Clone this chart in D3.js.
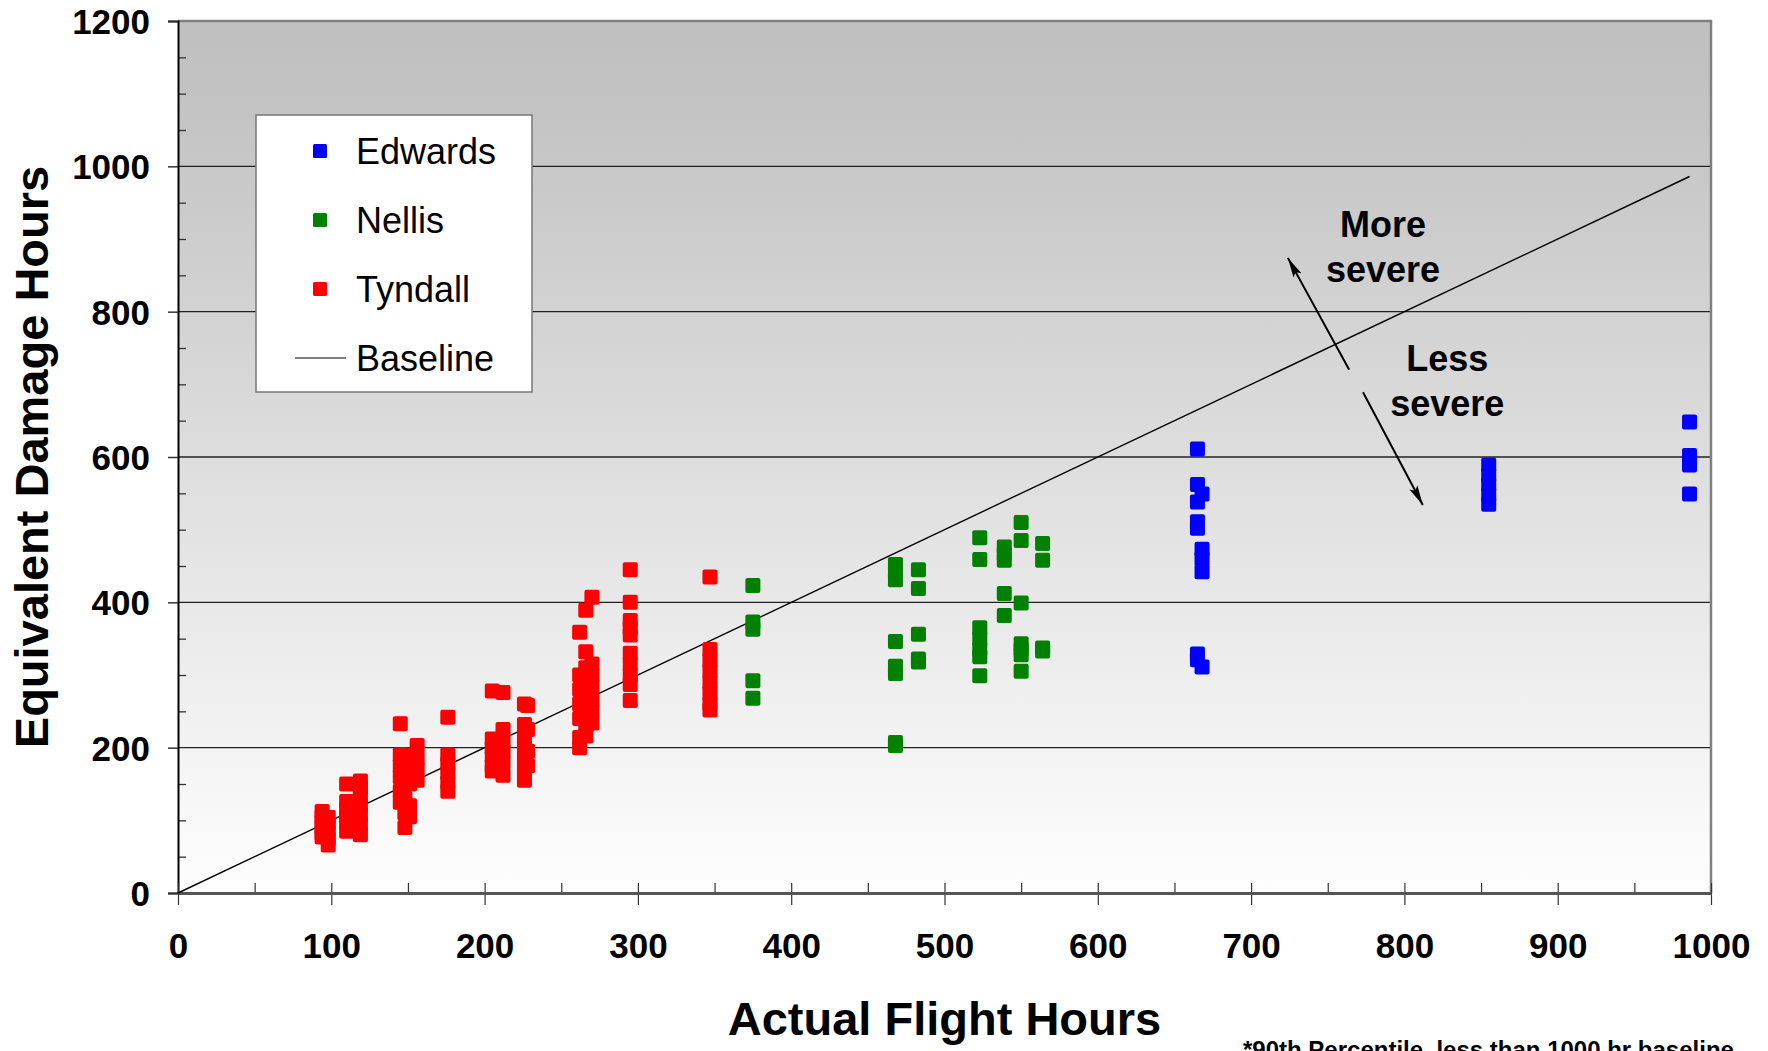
<!DOCTYPE html>
<html>
<head>
<meta charset="utf-8">
<script src="https://cdn.jsdelivr.net/npm/d3@7"></script>
<style>
  body { margin: 0; background: #fff; }
  text { font-family: "Liberation Sans", Arial, Helvetica, sans-serif; }
</style>
</head>
<body>
<svg id="chart" width="1768" height="1051"></svg>
<script>
// data: [actual flight hours, equivalent damage hours]
var edwards = [
  [665, 611], [665, 562], [665, 538], [665, 511], [665, 502], [665, 329], [665, 321],
  [668, 549], [668, 473], [668, 460], [668, 442], [668, 311],
  [855, 589], [855, 575], [855, 562], [855, 548], [855, 535],
  [986, 648], [986, 602], [986, 596], [986, 589], [986, 549]
];
var nellis = [
  [375, 423], [375, 373], [375, 363], [375, 292], [375, 268],
  [468, 452], [468, 440], [468, 431], [468, 346], [468, 312], [468, 302], [468, 207], [468, 203],
  [483, 445], [483, 419], [483, 356], [483, 322], [483, 318],
  [523, 489], [523, 459], [523, 365], [523, 350], [523, 335], [523, 325], [523, 299],
  [539, 476], [539, 466], [539, 458], [539, 412], [539, 382],
  [550, 510], [550, 485], [550, 399], [550, 343], [550, 335], [550, 328], [550, 305],
  [564, 481], [564, 458], [564, 337], [564, 333]
];
var tyndall = [
  [94, 112], [94, 105], [94, 98], [94, 90], [94, 82], [94, 77],
  [98, 104], [98, 95], [98, 85], [98, 75], [98, 66],
  [110, 150], [110, 126], [110, 115], [110, 105], [110, 95], [110, 85],
  [119, 154], [119, 145], [119, 135], [119, 120], [119, 108], [119, 95], [119, 80],
  [145, 233], [145, 190], [145, 175], [145, 160], [145, 140], [145, 125],
  [148, 190], [148, 170], [148, 150], [148, 130], [148, 110], [148, 90],
  [151, 180], [151, 150], [151, 120], [151, 105],
  [156, 203], [156, 185], [156, 170], [156, 155],
  [176, 242], [176, 190], [176, 178], [176, 165], [176, 152], [176, 140],
  [205, 278], [205, 212], [205, 200], [205, 188], [205, 175], [205, 168],
  [212, 276], [212, 225], [212, 210], [212, 195], [212, 180], [212, 162],
  [226, 260], [226, 232], [226, 215], [226, 200], [226, 185], [226, 170], [226, 155],
  [228, 258], [228, 225], [228, 195], [228, 175],
  [262, 359], [262, 300], [262, 280], [262, 260], [262, 240], [262, 214], [262, 200],
  [266, 389], [266, 332], [266, 310], [266, 290], [266, 270], [266, 250], [266, 230], [266, 216],
  [270, 407], [270, 315], [270, 300], [270, 285], [270, 265], [270, 250], [270, 234],
  [295, 445], [295, 400], [295, 375], [295, 365], [295, 355], [295, 330], [295, 315], [295, 300], [295, 287], [295, 265],
  [347, 435], [347, 335], [347, 320], [347, 305], [347, 290], [347, 275], [347, 260], [347, 252]
];
var baseline = [[0, 0], [986, 986]];

var xTicks = [0, 100, 200, 300, 400, 500, 600, 700, 800, 900, 1000];
var yTicks = [0, 200, 400, 600, 800, 1000, 1200];
var seriesNames = ["Edwards", "Nellis", "Tyndall"];
var seriesColors = ["#0000ff", "#008000", "#ff0000"];

var svg = d3.select("#chart");
var plotLeft = 178, plotRight = 1711, plotTop = 21, plotBottom = 893;

var x = d3.scaleLinear().domain([0, 1000]).range([plotLeft, plotRight]);
var y = d3.scaleLinear().domain([0, 1200]).range([plotBottom, plotTop]);
var fmt = d3.format("d");

// background gradient
var defs = svg.append("defs");
var grad = defs.append("linearGradient")
  .attr("id", "bg").attr("x1", 0).attr("y1", 0).attr("x2", 0).attr("y2", 1);
grad.append("stop").attr("offset", "0%").attr("stop-color", "#c0c0c0");
grad.append("stop").attr("offset", "8%").attr("stop-color", "#c2c2c2");
grad.append("stop").attr("offset", "100%").attr("stop-color", "#fefefe");

svg.append("rect")
  .attr("x", plotLeft).attr("y", plotTop)
  .attr("width", plotRight - plotLeft).attr("height", plotBottom - plotTop)
  .style("fill", "url(#bg)");

// gridlines
svg.append("g").selectAll("line")
  .data(yTicks.filter(function(d) { return d > 0 && d < 1200; }))
  .join("line")
  .attr("x1", plotLeft).attr("x2", plotRight)
  .attr("y1", function(d) { return y(d); }).attr("y2", function(d) { return y(d); })
  .style("stroke", "#222").style("stroke-width", 1.3);

// top and right border
svg.append("path")
  .attr("d", `M${plotLeft},${plotTop}H${plotRight}V${plotBottom}`)
  .style("fill", "none").style("stroke", "#808080").style("stroke-width", 2.5);

// minor ticks on y (inside)
var yMinor = d3.range(50, 1200, 50).filter(function(d) { return d % 200 !== 0; });
svg.append("g")
  .attr("transform", `translate(${plotLeft},0)`)
  .call(d3.axisRight(y).tickValues(yMinor).tickSize(8).tickFormat(""))
  .call(function(g) { g.select(".domain").remove(); })
  .selectAll("line").style("stroke", "#333").style("stroke-width", 1.3);

// y axis
var yAxis = svg.append("g")
  .attr("transform", `translate(${plotLeft},0)`)
  .call(d3.axisLeft(y).tickValues(yTicks).tickFormat(fmt).tickSize(10).tickPadding(18));
yAxis.select(".domain").style("stroke", "#000").style("stroke-width", 2);
yAxis.selectAll(".tick line").style("stroke", "#333").style("stroke-width", 1.5);
yAxis.selectAll("text")
  .style("font-size", "35px").style("font-weight", "bold").style("fill", "#000")
  .attr("dy", "0.36em");

// minor ticks on x (upward)
var xMinor = d3.range(50, 1000, 100);
svg.append("g")
  .attr("transform", `translate(0,${plotBottom})`)
  .call(d3.axisTop(x).tickValues(xMinor).tickSize(10).tickFormat(""))
  .call(function(g) { g.select(".domain").remove(); })
  .selectAll("line").style("stroke", "#333").style("stroke-width", 1.2);

// major ticks on x crossing the axis
svg.append("g")
  .attr("transform", `translate(0,${plotBottom - 10})`)
  .call(d3.axisBottom(x).tickValues(xTicks).tickSize(22).tickFormat(""))
  .call(function(g) { g.select(".domain").remove(); })
  .selectAll("line").style("stroke", "#333").style("stroke-width", 1.2);

// x axis
var xAxis = svg.append("g")
  .attr("transform", `translate(0,${plotBottom})`)
  .call(d3.axisBottom(x).tickValues(xTicks).tickFormat(fmt).tickSize(0).tickPadding(40));
xAxis.select(".domain").style("stroke", "#555").style("stroke-width", 3);
xAxis.selectAll("text")
  .style("font-size", "35px").style("font-weight", "bold").style("fill", "#000");

// baseline
var line = d3.line()
  .x(function(d) { return x(d[0]); })
  .y(function(d) { return y(d[1]); });
svg.append("path")
  .datum(baseline)
  .attr("d", line)
  .style("fill", "none").style("stroke", "#000").style("stroke-width", 1.4);

// points
var allSeries = [edwards, nellis, tyndall];
var m = 15;
allSeries.forEach(function(pts, i) {
  svg.append("g").selectAll("rect")
    .data(pts)
    .join("rect")
    .attr("x", function(d) { return x(d[0]) - m / 2; })
    .attr("y", function(d) { return y(d[1]) - m / 2; })
    .attr("width", m).attr("height", m)
    .attr("rx", 2)
    .style("fill", seriesColors[i]);
});

// annotations
defs.append("marker")
  .attr("id", "arrow").attr("viewBox", "0 0 20 10")
  .attr("refX", 20).attr("refY", 5)
  .attr("markerWidth", 20).attr("markerHeight", 9)
  .attr("markerUnits", "userSpaceOnUse")
  .attr("preserveAspectRatio", "none")
  .attr("orient", "auto")
  .append("path").attr("d", "M0,0L20,5L0,10L4,5z").style("fill", "#000");

var arrows = [
  [[764, 720], [724, 874]],
  [[773, 689], [812, 534]]
];
svg.append("g").selectAll("path")
  .data(arrows)
  .join("path")
  .attr("d", line)
  .style("stroke", "#000").style("stroke-width", 2)
  .attr("marker-end", "url(#arrow)");

var notes = [
  ["More", 786, 903], ["severe", 786, 841],
  ["Less", 828, 718], ["severe", 828, 656]
];
svg.append("g").selectAll("text")
  .data(notes)
  .join("text")
  .attr("x", function(d) { return x(d[1]); })
  .attr("y", function(d) { return y(d[2]); })
  .attr("text-anchor", "middle")
  .style("font-size", "36px").style("font-weight", "bold")
  .text(function(d) { return d[0]; });

// legend
var legend = svg.append("g").attr("transform", "translate(256,115)");
legend.append("rect")
  .attr("width", 276).attr("height", 277)
  .style("fill", "#fff").style("stroke", "#777").style("stroke-width", 1.5);
var rows = seriesNames.concat(["Baseline"]);
rows.forEach(function(name, i) {
  var ry = 36 + i * 69;
  if (i < 3) {
    legend.append("rect")
      .attr("x", 57).attr("y", ry - 7).attr("width", 14).attr("height", 14)
      .attr("rx", 1.5)
      .style("fill", seriesColors[i]);
  } else {
    legend.append("line")
      .attr("x1", 39).attr("x2", 90).attr("y1", ry).attr("y2", ry)
      .style("stroke", "#000").style("stroke-width", 1);
  }
  legend.append("text")
    .attr("x", 100).attr("y", ry).attr("dy", "0.36em")
    .style("font-size", "36px")
    .text(name);
});

// axis titles
svg.append("text")
  .attr("x", (plotLeft + plotRight) / 2).attr("y", 1035)
  .attr("text-anchor", "middle")
  .style("font-size", "47px").style("font-weight", "bold")
  .text("Actual Flight Hours");

svg.append("text")
  .attr("transform", `translate(48,${(plotTop + plotBottom) / 2}) rotate(-90)`)
  .attr("text-anchor", "middle")
  .style("font-size", "47px").style("font-weight", "bold")
  .text("Equivalent Damage Hours");

// footnote, cut off at the bottom edge as in the original
svg.append("text")
  .attr("x", 1243).attr("y", 1058)
  .style("font-size", "24px").style("font-weight", "bold")
  .text("*90th Percentile, less than 1000 hr baseline");
</script>
</body>
</html>
